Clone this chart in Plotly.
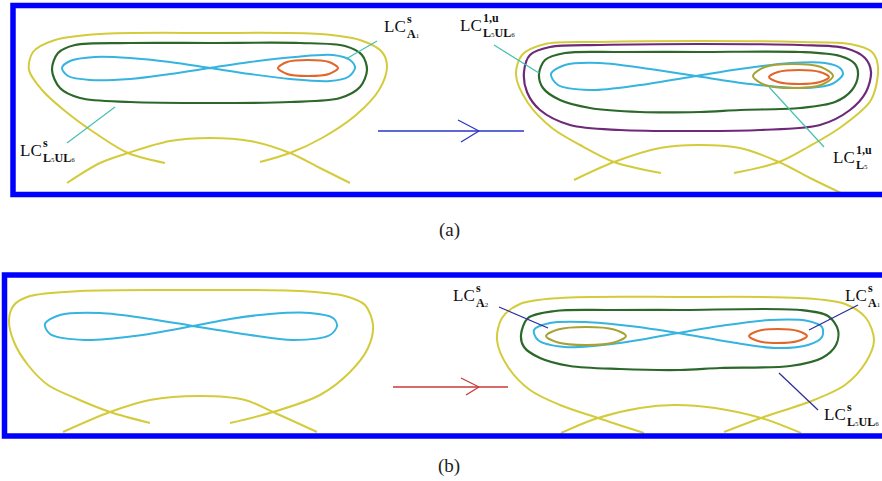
import plotly.graph_objects as go

# ---------------- data: curve points (pixel space) ----------------
# Panel (a), left diagram
A_L_YELLOW = [(165,163),(128,153),(95,133),(65,111),(42,90),(29,70),(33,52),(55,40),(100,34),(210,33),
              (320,34),(360,40),(382,52),(387,67),(379,90),(356,115),(322,138),(290,153),(260,162)]
A_L_ARCH = [(67,183),(100,163),(128,153),(170,141),(210,138),(250,141),(290,153),(320,168),(350,183)]
A_L_GREEN = [(210,43),(300,43),(345,46),(362,55),(367,70),(360,87),(340,98),(290,102),(210,103),
             (130,102),(80,98),(60,88),(52,70),(58,53),(75,45),(130,43),(210,43)]
A_L_CYAN = [(210,68),(250,62),(295,57),(333,55),(350,60),(355,68),(348,77),(330,81),(290,79),(250,74),(210,68),
            (170,62),(130,58),(95,57),(70,61),(62,68),(68,76),(90,80),(130,79),(170,74),(210,68)]
A_L_ORANGE = [(308,60),(329,62),(338,68),(329,74),(308,76),(287,74),(278,68),(287,62),(308,60)]

# Panel (a), right diagram
A_R_YELLOW = [(661,173),(614,162),(580,145),(552,128),(528,103),(516,75),(522,55),(545,44),(600,42),(700,41),
              (800,42),(850,44),(872,52),(878,67),(871,100),(841,127),(808,147),(779,162),(734,173)]
A_R_ARCH = [(574,180),(614,162),(660,148),(698,145),(740,148),(779,162),(810,178),(841,193)]
A_R_PURPLE = [(700,44),(800,45),(845,48),(865,58),(871,72),(866,92),(850,110),(820,125),(760,130),(700,131),
              (620,130),(570,125),(540,110),(527,92),(524,72),(530,55),(550,47),(600,45),(700,44)]
A_R_GREEN = [(700,52),(800,52),(840,56),(855,64),(858,75),(852,90),(835,102),(800,108),(740,110),(700,112),
             (640,112),(590,108),(560,100),(543,88),(539,74),(545,60),(565,53),(620,52),(700,52)]
A_R_CYAN = [(696,76),(740,69),(790,63),(825,63),(840,68),(843,74),(832,84),(800,88),(750,84),(696,76),
            (650,69),(600,63),(565,65),(551,74),(558,85),(590,90),(640,85),(696,76)]
A_R_OLIVE = [(793,64),(821,67),(833,76),(821,85),(793,88),(765,85),(753,76),(765,67),(793,64)]
A_R_ORANGE = [(799,70),(820,72),(829,77),(820,82),(799,84),(778,82),(769,77),(778,72),(799,70)]

# Panel (b), left diagram
B_L_YELLOW = [(150,423),(110,412),(75,398),(48,385),(28,365),(14,342),(9,320),(14,305),(30,296),(80,291),
              (190,290),(300,291),(345,296),(365,305),(373,325),(368,348),(350,372),(320,395),(273,412),(230,423)]
B_L_ARCH = [(63,432),(110,412),(150,400),(200,396),(245,400),(273,412),(317,432)]
B_L_CYAN = [(193,326),(230,319),(270,314),(310,313),(333,318),(337,326),(330,335),(293,340),(250,335),(193,326),
            (150,319),(100,313),(60,315),(45,324),(50,334),(85,340),(135,336),(193,326)]

# Panel (b), right diagram
B_R_YELLOW = [(644,433),(598,418),(560,405),(530,390),(508,367),(497,340),(502,318),(520,304),(560,298),(680,297),
              (800,298),(845,304),(866,318),(874,340),(866,362),(845,385),(814,400),(761,418),(724,432)]
B_R_ARCH = [(561,433),(598,418),(640,408),(674,405),(715,408),(761,418),(801,433)]
B_R_GREEN = [(680,310),(800,310),(828,316),(838,330),(836,345),(822,358),(790,366),(720,368),(680,370),
             (620,369),(570,366),(540,358),(524,347),(521,335),(528,318),(555,311),(610,310),(680,310)]
B_R_CYAN = [(678,333),(720,326),(770,320),(808,321),(822,327),(822,337),(808,345),(775,348),(730,342),(678,333),
            (630,326),(585,322),(550,323),(534,330),(538,340),(565,347),(620,343),(678,333)]
B_R_OLIVE = [(586,327),(614,329.5),(626,336),(614,342.5),(586,345),(558,342.5),(546,336),(558,329.5),(586,327)]
B_R_ORANGE = [(778,329),(798,331),(807,336),(798,341),(778,343),(758,341),(749,336),(758,331),(778,329)]

# leader lines and arrows
LEADERS_A = [[(377,41),(346,59)], [(67,143),(115,107)], [(494,45),(539,73)], [(769,87),(824,147)]]
LEADERS_B = [[(499,307),(548,328)], [(858,305),(809,330)], [(779,373),(818,410)]]
ARROW_A_LINE = [(378,131),(524,131)]
ARROW_A_HEAD = [(458,120),(479,131),(461,142)]
ARROW_B_LINE = [(393,387),(508,387)]
ARROW_B_HEAD = [(461,378),(479,387),(466,395)]

# labels: (x, y, main, sup, sub)
SUB_L5UL6 = "<b>L</b><span style='font-size:7px'>5</span><b>UL</b><span style='font-size:7px'>6</span>"
LABELS = [
    (382, 26, "LC", "<b>s</b>", "<b>A</b><span style='font-size:7px'>1</span>"),
    (18, 150, "LC", "<b>s</b>", SUB_L5UL6),
    (458, 25, "LC", "<b>1,u</b>", SUB_L5UL6),
    (831, 157, "LC", "<b>1,u</b>", "<b>L</b><span style='font-size:7px'>5</span>"),
    (451, 295, "LC", "<b>s</b>", "<b>A</b><span style='font-size:7px'>2</span>"),
    (843, 295, "LC", "<b>s</b>", "<b>A</b><span style='font-size:7px'>1</span>"),
    (822, 414, "LC", "<b>s</b>", SUB_L5UL6),
]
CAPTIONS = [(449, 230, "(a)"), (449, 466, "(b)")]
PANEL_BOXES = [(13, 5.5, 900, 194.5), (4.5, 275, 900, 436)]

# ---------------- styles ----------------
YELLOW = "#d4cb3c"
CYAN = "#35b4e0"
GREEN = "#2c682a"
ORANGE = "#e2662a"
PURPLE = "#6e2a78"
OLIVE = "#a8a234"
TEAL = "#45c0b0"
NAVY = "#2a2a9a"
SERIF = "Liberation Serif"

fig = go.Figure()

def add(points, color, width, spline=True):
    xs = [p[0] for p in points]
    ys = [p[1] for p in points]
    fig.add_trace(go.Scatter(
        x=xs, y=ys, mode="lines",
        line=dict(color=color, width=width, shape="spline" if spline else "linear", smoothing=0.9),
        hoverinfo="skip", showlegend=False))

for pts in [A_L_YELLOW, A_L_ARCH, A_R_YELLOW, A_R_ARCH, B_L_YELLOW, B_L_ARCH, B_R_YELLOW, B_R_ARCH]:
    add(pts, YELLOW, 2)
add(A_R_PURPLE, PURPLE, 2.2)
for pts in [A_L_GREEN, A_R_GREEN, B_R_GREEN]:
    add(pts, GREEN, 2.2)
for pts in [A_L_CYAN, A_R_CYAN, B_L_CYAN, B_R_CYAN]:
    add(pts, CYAN, 2)
for pts in [A_R_OLIVE, B_R_OLIVE]:
    add(pts, OLIVE, 2)
for pts in [A_L_ORANGE, A_R_ORANGE, B_R_ORANGE]:
    add(pts, ORANGE, 2)
for seg in LEADERS_A:
    add(seg, TEAL, 1.2, spline=False)
for seg in LEADERS_B:
    add(seg, NAVY, 1.2, spline=False)
add(ARROW_A_LINE, "#2a34c8", 1.5, spline=False)
add(ARROW_A_HEAD, "#2a34c8", 1.3, spline=False)
add(ARROW_B_LINE, "#c83a3a", 1.5, spline=False)
add(ARROW_B_HEAD, "#c83a3a", 1.3, spline=False)

for (x0, y0, x1, y1) in PANEL_BOXES:
    fig.add_shape(type="rect", x0=x0, y0=y0, x1=x1, y1=y1, xref="x", yref="y",
                  line=dict(color="#0000ff", width=5.5), layer="above")

for (x, y, main, sup, sub) in LABELS:
    fig.add_annotation(x=x, y=y, text=main, showarrow=False, xanchor="left", yanchor="middle",
                       font=dict(family=SERIF, size=17, color="#111111"))
    fig.add_annotation(x=x + 23, y=y - 7, text=sup, showarrow=False, xanchor="left", yanchor="middle",
                       font=dict(family=SERIF, size=12, color="#111111"))
    fig.add_annotation(x=x + 23, y=y + 8, text=sub, showarrow=False, xanchor="left", yanchor="middle",
                       font=dict(family=SERIF, size=12, color="#111111"))

for (x, y, t) in CAPTIONS:
    fig.add_annotation(x=x, y=y, text=t, showarrow=False, xanchor="center", yanchor="middle",
                       font=dict(family=SERIF, size=19, color="#222222"))

W, H = 882, 481
fig.update_layout(
    width=W, height=H,
    margin=dict(l=0, r=0, t=0, b=0, pad=0),
    paper_bgcolor="white", plot_bgcolor="white",
    xaxis=dict(range=[0, W], visible=False, fixedrange=True),
    yaxis=dict(range=[H, 0], visible=False, fixedrange=True),
    showlegend=False,
)
fig.write_html("out.html", config={"displayModeBar": False},
               post_script="document.body.style.margin='0';document.body.style.overflow='hidden';")
